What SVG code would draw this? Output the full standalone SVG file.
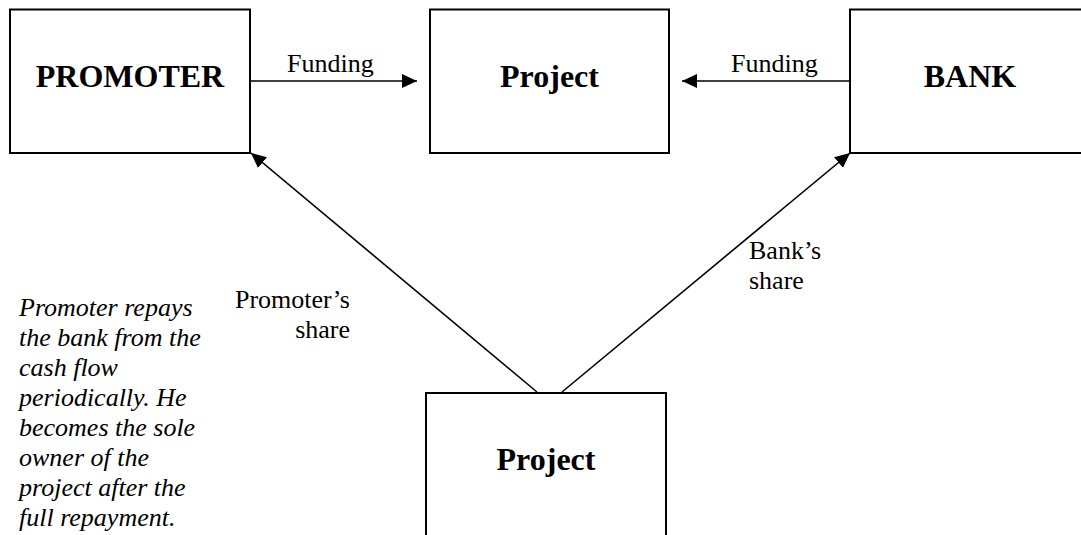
<svg xmlns="http://www.w3.org/2000/svg" width="1081" height="535" viewBox="0 0 1081 535" font-family="Liberation Serif">
<style>
.box{fill:#fff;stroke:#000;stroke-width:2}
.title{font-family:'Liberation Serif',serif;font-weight:bold;font-size:32px;text-anchor:middle;fill:#000}
.lbl{font-family:'Liberation Serif',serif;font-size:26px;fill:#000}
.note{font-family:'Liberation Serif',serif;font-style:italic;font-size:26px;fill:#000}
.conn{stroke:#000;stroke-width:1.6;fill:none}
</style>
<defs>
<marker id="ah" viewBox="0 0 15 14" refX="15" refY="7" markerWidth="15" markerHeight="14" markerUnits="userSpaceOnUse" orient="auto">
<path d="M0,0 L15,7 L0,14 Z" fill="#000"/>
</marker>
</defs>
<rect width="1081" height="535" fill="#fff"/>
<g id="promoter">
<rect class="box" x="10" y="9.5" width="240" height="143.5"/>
<text class="title" x="130" y="87">PROMOTER</text>
</g>
<g id="project-top">
<rect class="box" x="430" y="9.5" width="239" height="143.5"/>
<text class="title" x="549.5" y="87">Project</text>
</g>
<g id="bank">
<rect class="box" x="850" y="9.5" width="250" height="143.5"/>
<text class="title" x="970" y="87">BANK</text>
</g>
<g id="project-bottom">
<rect class="box" x="426" y="393" width="240" height="170"/>
<text class="title" x="546" y="470">Project</text>
</g>
<g id="connectors">
<line class="conn" x1="251" y1="81" x2="417" y2="81" marker-end="url(#ah)"/>
<line class="conn" x1="849" y1="81" x2="682" y2="81" marker-end="url(#ah)"/>
<line class="conn" x1="537" y1="392" x2="251" y2="153" marker-end="url(#ah)"/>
<line class="conn" x1="562" y1="392" x2="850" y2="153" marker-end="url(#ah)"/>
<text class="lbl" x="287" y="72">Funding</text>
<text class="lbl" x="731" y="72">Funding</text>
<text class="lbl" x="350" y="308" text-anchor="end">Promoter’s</text>
<text class="lbl" x="350" y="338" text-anchor="end">share</text>
<text class="lbl" x="749" y="259">Bank’s</text>
<text class="lbl" x="749" y="289">share</text>
</g>
<g id="note">
<text class="note" x="19" y="316">Promoter repays</text>
<text class="note" x="19" y="346">the bank from the</text>
<text class="note" x="19" y="376">cash flow</text>
<text class="note" x="19" y="406">periodically. He</text>
<text class="note" x="19" y="436">becomes the sole</text>
<text class="note" x="19" y="466">owner of the</text>
<text class="note" x="19" y="496">project after the</text>
<text class="note" x="19" y="526">full repayment.</text>
</g>
</svg>
